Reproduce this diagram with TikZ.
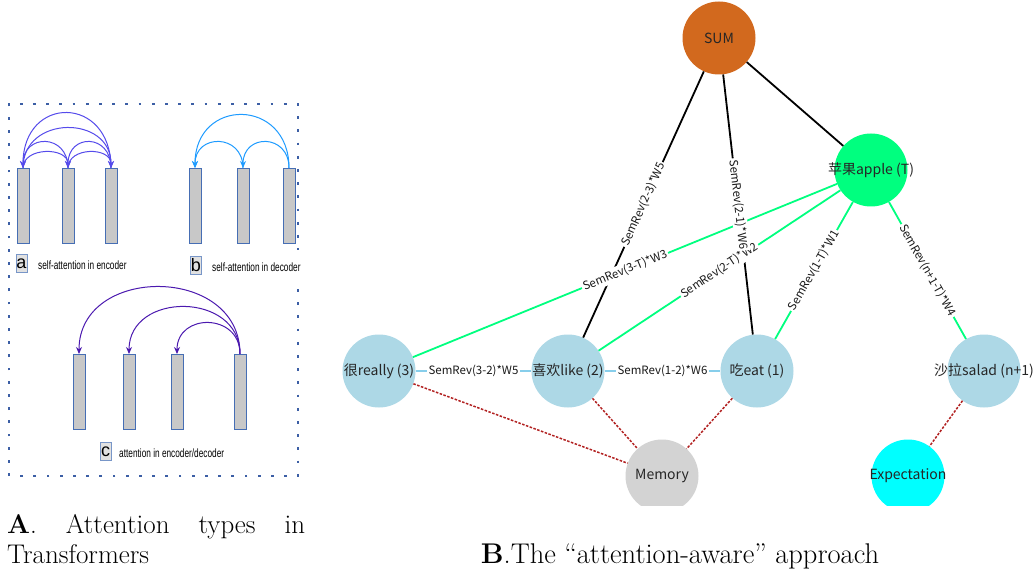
\documentclass[tikz,border=0pt]{standalone}
\usepackage{fontspec}
\newfontfamily\cjk{Noto Sans CJK SC}
\newfontfamily\arl{Liberation Sans}
\usetikzlibrary{arrows.meta}
\definecolor{barblue}{RGB}{70,110,180}
\definecolor{bargray}{RGB}{200,200,200}
\definecolor{dotblue}{RGB}{60,95,165}
\definecolor{arcAc}{RGB}{85,75,235}
\definecolor{arcBc}{RGB}{30,155,255}
\definecolor{arcCc}{RGB}{75,25,175}
\definecolor{taggray}{RGB}{225,225,225}
\definecolor{tagedge}{RGB}{120,150,200}
\definecolor{sumc}{HTML}{D2691E}
\definecolor{springc}{HTML}{00FF7F}
\definecolor{lbluec}{HTML}{ADD8E6}
\definecolor{skyc}{HTML}{87CEEB}
\definecolor{memc}{HTML}{D3D3D3}
\definecolor{expc}{HTML}{00FFFF}
\definecolor{firec}{HTML}{B22222}
\begin{document}
\begin{tikzpicture}[x=1pt,y=-1pt,
  bar/.style={draw=barblue, fill=bargray, line width=0.8pt, minimum width=12pt, minimum height=75pt, inner sep=0pt, anchor=north},
  arcstyle/.style={line width=1pt, -{Stealth[length=7pt,width=6pt]}},
  tagbox/.style={draw=tagedge, fill=taggray, line width=0.8pt, minimum width=11pt, minimum height=18pt, inner sep=0pt, font=\arl\fontsize{18}{18}\selectfont},
  smalltxt/.style={anchor=west, inner sep=0pt, font=\arl\fontsize{12}{13}\selectfont},
  dotbd/.style={draw=dotblue, line width=2.8pt, dash pattern=on 2.8pt off 10.4pt},
  gnode/.style={circle, minimum size=73pt, inner sep=0pt, draw=none},
  ntxt/.style={font=\cjk\fontsize{14}{16}\selectfont, text=black!85},
  blk/.style={line width=1.8pt, draw=black},
  grn/.style={line width=1.8pt, draw=springc},
  blu/.style={line width=1.8pt, draw=skyc},
  mem/.style={line width=1.5pt, draw=firec, dash pattern=on 2.5pt off 1.5pt},
  lbl/.style={font=\cjk\fontsize{11.5}{13}\selectfont, fill=white, inner sep=1.5pt, sloped, midway, text=black!90},
  captxt/.style={inner sep=0pt, font=\fontsize{27}{30}\selectfont}
]
\useasboundingbox (0,0) rectangle (1036,572);

% ---------------- Panel A ----------------
\draw[dotbd] (9,476) -- (9,104) -- (298,104) -- (298,250);
\draw[dotbd] (298,289) -- (298,476) -- (12,476);

% (a) encoder
\node[bar] (a1) at (23,168) {};
\node[bar] (a2) at (68,168) {};
\node[bar] (a3) at (111,168) {};
\begin{scope}[arcstyle, draw=arcAc]
\draw (a3.north) .. controls (111,94.7) and (23,94.7) .. (a1.north);
\draw (a1.north) .. controls (23,114.7) and (111,114.7) .. (a3.north);
\draw (a2.north) .. controls (68,133.3) and (23,133.3) .. (a1.north);
\draw (a1.north) .. controls (23,146.7) and (68,146.7) .. (a2.north);
\draw (a3.north) .. controls (111,133.3) and (68,133.3) .. (a2.north);
\draw (a2.north) .. controls (68,146.7) and (111,146.7) .. (a3.north);
\end{scope}
\node[tagbox] (ta) at (21.5,263.5) {a};
\node[smalltxt] (la) at (38,265) {\scalebox{0.69}[1]{self-attention in encoder}};

% (b) decoder
\node[bar] (b1) at (195,168) {};
\node[bar] (b2) at (243,168) {};
\node[bar] (b3) at (289,168) {};
\begin{scope}[arcstyle, draw=arcBc]
\draw (b3.north) .. controls (289,97.3) and (195,97.3) .. (b1.north);
\draw (b3.north) .. controls (289,133.3) and (243,133.3) .. (b2.north);
\draw (b2.north) .. controls (243,133.3) and (195,133.3) .. (b1.north);
\end{scope}
\node[tagbox] (tb) at (196,265) {b};
\node[smalltxt] (lb) at (212,267) {\scalebox{0.69}[1]{self-attention in decoder}};

% (c) encoder/decoder
\node[bar] (c1) at (79,354) {};
\node[bar] (c2) at (129,354) {};
\node[bar] (c3) at (177,354) {};
\node[bar] (c4) at (240,354) {};
\begin{scope}[arcstyle, draw=arcCc]
\draw (c4.north) .. controls (240,264.7) and (79,264.7) .. (c1.north);
\draw (c4.north) .. controls (240,291.3) and (129,291.3) .. (c2.north);
\draw (c4.north) .. controls (240,312.7) and (177,312.7) .. (c3.north);
\end{scope}
\node[tagbox] (tc) at (105.5,451.5) {c};
\node[smalltxt] (lc) at (119,453) {\scalebox{0.69}[1]{attention in encoder/decoder}};

\node[captxt, anchor=north west, text width=298pt, align=justify] (capA) at (7,514)
  {\textbf{A}. Attention types in \mbox{Transformers}};

% ---------------- Panel B ----------------
\begin{scope}
\clip (330,0) rectangle (1036,505);
\node[gnode, fill=sumc, label={[ntxt]center:SUM}] (sum) at (719,38) {};
\node[gnode, fill=springc, label={[ntxt]center:苹果apple (T)}] (apple) at (871,170) {};
\node[gnode, fill=lbluec, label={[ntxt]center:很really (3)}] (really) at (379,371) {};
\node[gnode, fill=lbluec, label={[ntxt]center:喜欢like (2)}] (like) at (568,371) {};
\node[gnode, fill=lbluec, label={[ntxt]center:吃eat (1)}] (eat) at (757,371) {};
\node[gnode, fill=lbluec, label={[ntxt]center:沙拉salad (n+1)}] (salad) at (984,371) {};
\node[gnode, fill=memc, label={[ntxt]center:Memory}] (memory) at (662,476) {};
\node[gnode, fill=expc, label={[ntxt]center:Expectation}] (expect) at (908,476) {};

\draw[blk] (sum) -- (apple);
\draw[blk] (sum) -- (like);
\draw[blk] (sum) -- (eat);
\draw[grn] (apple) -- (really);
\draw[grn] (apple) -- (like);
\draw[grn] (apple) -- (eat);
\draw[grn] (apple) -- (salad);
\draw[blu] (really) -- (like);
\draw[blu] (like) -- (eat);
\draw[mem] (really) -- (memory);
\draw[mem] (like) -- (memory);
\draw[mem] (eat) -- (memory);
\draw[mem] (salad) -- (expect);

\path (apple) -- (really) node[lbl] (l1) {SemRev(3-T)*W3};
\path (apple) -- (like) node[lbl] (l2) {SemRev(2-T)*W2};
\path (apple) -- (eat) node[lbl] (l3) {SemRev(1-T)*W1};
\path (apple) -- (salad) node[lbl] (l4) {SemRev(n+1-T)*W4};
\path (sum) -- (like) node[lbl] (l5) {SemRev(2-3)*W5};
\path (sum) -- (eat) node[lbl] (l6) {SemRev(2-1)*W6};
\path (really) -- (like) node[lbl] (l7) {SemRev(3-2)*W5};
\path (like) -- (eat) node[lbl] (l8) {SemRev(1-2)*W6};
\end{scope}

\node[captxt, anchor=base, font=\fontsize{28.5}{30}\selectfont] (capB) at (680,563) {\textbf{B}.The ``attention-aware'' approach};
\end{tikzpicture}
\end{document}
